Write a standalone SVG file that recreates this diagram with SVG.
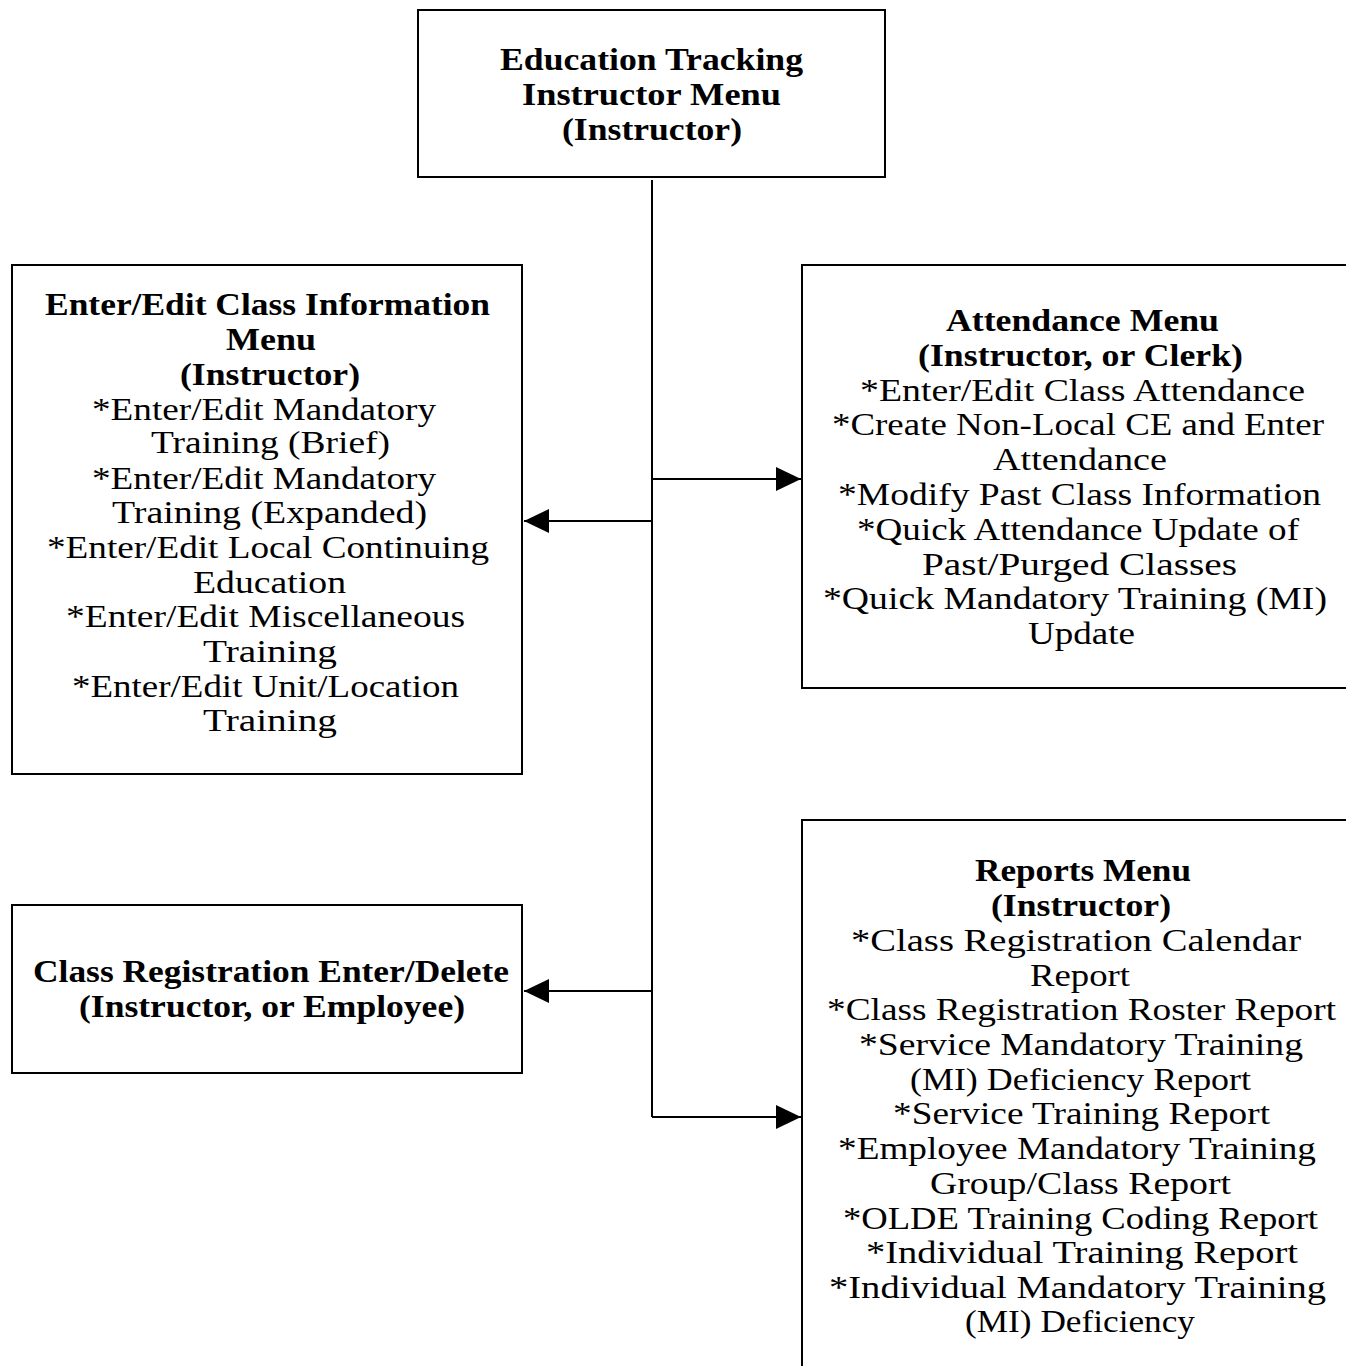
<svg xmlns="http://www.w3.org/2000/svg" width="1346" height="1366" viewBox="0 0 1346 1366">
<style>
.box{fill:#fff;stroke:#000;stroke-width:2}
.ln{fill:none;stroke:#000;stroke-width:2}
text{font-family:"Times New Roman","Liberation Serif",Times,serif;text-anchor:middle;fill:#000}
.b{font-weight:bold;font-size:32px}
.r{font-size:32px}
</style>
<defs>
<marker id="ah" markerWidth="26" markerHeight="24" refX="25" refY="12" orient="auto" markerUnits="userSpaceOnUse">
<path d="M0,0 L25,12 L0,24 Z" fill="#000"/>
</marker>
</defs>
<rect width="1346" height="1366" fill="#fff"/>
<g id="connectors">
<line class="ln" x1="652" y1="180" x2="652" y2="1117"/>
<line class="ln" x1="652" y1="479" x2="801" y2="479" marker-end="url(#ah)"/>
<line class="ln" x1="652" y1="521" x2="524" y2="521" marker-end="url(#ah)"/>
<line class="ln" x1="652" y1="991" x2="524" y2="991" marker-end="url(#ah)"/>
<line class="ln" x1="652" y1="1117" x2="801" y2="1117" marker-end="url(#ah)"/>
</g>
<g id="node-top">
<rect class="box" x="418" y="10" width="467" height="167"/>
<text class="b" x="651.5" y="70" textLength="303" lengthAdjust="spacingAndGlyphs">Education Tracking</text>
<text class="b" x="651.5" y="105" textLength="259" lengthAdjust="spacingAndGlyphs">Instructor Menu</text>
<text class="b" x="652" y="140" textLength="180" lengthAdjust="spacingAndGlyphs">(Instructor)</text>
</g>
<g id="node-classinfo">
<rect class="box" x="12" y="265" width="510" height="509"/>
<text class="b" x="267.5" y="315" textLength="445" lengthAdjust="spacingAndGlyphs">Enter/Edit Class Information</text>
<text class="b" x="271" y="350" textLength="90" lengthAdjust="spacingAndGlyphs">Menu</text>
<text class="b" x="270" y="385" textLength="180" lengthAdjust="spacingAndGlyphs">(Instructor)</text>
<text class="r" x="264" y="420" textLength="344" lengthAdjust="spacingAndGlyphs">*Enter/Edit Mandatory</text>
<text class="r" x="270.5" y="453" textLength="239" lengthAdjust="spacingAndGlyphs">Training (Brief)</text>
<text class="r" x="264" y="489" textLength="344" lengthAdjust="spacingAndGlyphs">*Enter/Edit Mandatory</text>
<text class="r" x="269.5" y="523" textLength="315" lengthAdjust="spacingAndGlyphs">Training (Expanded)</text>
<text class="r" x="268" y="558" textLength="442" lengthAdjust="spacingAndGlyphs">*Enter/Edit Local Continuing</text>
<text class="r" x="269.5" y="593" textLength="153" lengthAdjust="spacingAndGlyphs">Education</text>
<text class="r" x="265.5" y="627" textLength="399" lengthAdjust="spacingAndGlyphs">*Enter/Edit Miscellaneous</text>
<text class="r" x="270" y="662" textLength="134" lengthAdjust="spacingAndGlyphs">Training</text>
<text class="r" x="265.5" y="697" textLength="387" lengthAdjust="spacingAndGlyphs">*Enter/Edit Unit/Location</text>
<text class="r" x="270" y="731" textLength="134" lengthAdjust="spacingAndGlyphs">Training</text>
</g>
<g id="node-attendance">
<rect class="box" x="802" y="265" width="560" height="423"/>
<text class="b" x="1082.5" y="331" textLength="273" lengthAdjust="spacingAndGlyphs">Attendance Menu</text>
<text class="b" x="1080.5" y="366" textLength="325" lengthAdjust="spacingAndGlyphs">(Instructor, or Clerk)</text>
<text class="r" x="1082.5" y="401" textLength="445" lengthAdjust="spacingAndGlyphs">*Enter/Edit Class Attendance</text>
<text class="r" x="1078" y="435" textLength="492" lengthAdjust="spacingAndGlyphs">*Create Non-Local CE and Enter</text>
<text class="r" x="1080" y="470" textLength="174" lengthAdjust="spacingAndGlyphs">Attendance</text>
<text class="r" x="1079.5" y="505" textLength="483" lengthAdjust="spacingAndGlyphs">*Modify Past Class Information</text>
<text class="r" x="1078" y="540" textLength="442" lengthAdjust="spacingAndGlyphs">*Quick Attendance Update of</text>
<text class="r" x="1079.5" y="575" textLength="315" lengthAdjust="spacingAndGlyphs">Past/Purged Classes</text>
<text class="r" x="1075" y="609" textLength="504" lengthAdjust="spacingAndGlyphs">*Quick Mandatory Training (MI)</text>
<text class="r" x="1081.5" y="644" textLength="107" lengthAdjust="spacingAndGlyphs">Update</text>
</g>
<g id="node-registration">
<rect class="box" x="12" y="905" width="510" height="168"/>
<text class="b" x="271" y="982" textLength="476" lengthAdjust="spacingAndGlyphs">Class Registration Enter/Delete</text>
<text class="b" x="272" y="1017" textLength="386" lengthAdjust="spacingAndGlyphs">(Instructor, or Employee)</text>
</g>
<g id="node-reports">
<rect class="box" x="802" y="820" width="560" height="580"/>
<text class="b" x="1083" y="881" textLength="216" lengthAdjust="spacingAndGlyphs">Reports Menu</text>
<text class="b" x="1081" y="916" textLength="180" lengthAdjust="spacingAndGlyphs">(Instructor)</text>
<text class="r" x="1076" y="951" textLength="450" lengthAdjust="spacingAndGlyphs">*Class Registration Calendar</text>
<text class="r" x="1080" y="986" textLength="100" lengthAdjust="spacingAndGlyphs">Report</text>
<text class="r" x="1081.5" y="1020" textLength="509" lengthAdjust="spacingAndGlyphs">*Class Registration Roster Report</text>
<text class="r" x="1081" y="1055" textLength="444" lengthAdjust="spacingAndGlyphs">*Service Mandatory Training</text>
<text class="r" x="1080.5" y="1090" textLength="341" lengthAdjust="spacingAndGlyphs">(MI) Deficiency Report</text>
<text class="r" x="1081.5" y="1124" textLength="377" lengthAdjust="spacingAndGlyphs">*Service Training Report</text>
<text class="r" x="1077" y="1159" textLength="478" lengthAdjust="spacingAndGlyphs">*Employee Mandatory Training</text>
<text class="r" x="1080.5" y="1194" textLength="301" lengthAdjust="spacingAndGlyphs">Group/Class Report</text>
<text class="r" x="1080.5" y="1229" textLength="475" lengthAdjust="spacingAndGlyphs">*OLDE Training Coding Report</text>
<text class="r" x="1082" y="1263" textLength="432" lengthAdjust="spacingAndGlyphs">*Individual Training Report</text>
<text class="r" x="1077.5" y="1298" textLength="497" lengthAdjust="spacingAndGlyphs">*Individual Mandatory Training</text>
<text class="r" x="1080" y="1332" textLength="230" lengthAdjust="spacingAndGlyphs">(MI) Deficiency</text>
</g>
</svg>
